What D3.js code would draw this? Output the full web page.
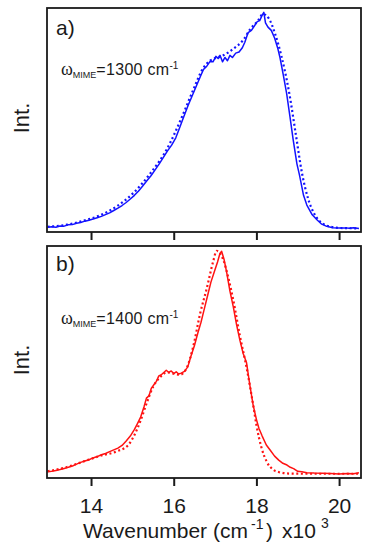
<!DOCTYPE html>
<html>
<head>
<meta charset="utf-8">
<script src="https://cdn.jsdelivr.net/npm/d3@7"></script>
<style>
  html, body { margin: 0; padding: 0; background: #fff; }
  svg { display: block; font-family: "Liberation Sans", Arial, sans-serif; }
</style>
</head>
<body>
<div id="chart"></div>
<script>
// Wavenumber axis ticks (x10^3 cm-1)
var X_TICKS = [14, 16, 18, 20];

// Panel a) measured spectrum (solid) and fit (dotted)
var A_MEAS_X = [12.95, 13.05, 13.15, 13.25, 13.35, 13.45, 13.55, 13.65, 13.75, 13.85, 13.95, 14.05, 14.15, 14.25, 14.35, 14.45, 14.55, 14.65, 14.75, 14.85, 14.95, 15.05, 15.15, 15.25, 15.35, 15.45, 15.55, 15.65, 15.75, 15.85, 15.95, 16.05, 16.15, 16.25, 16.35, 16.45, 16.55, 16.65, 16.72, 16.80, 16.88, 16.95, 17.02, 17.08, 17.12, 17.18, 17.24, 17.30, 17.36, 17.42, 17.50, 17.58, 17.66, 17.72, 17.80, 17.88, 17.95, 18.02, 18.08, 18.14, 18.18, 18.22, 18.28, 18.36, 18.44, 18.52, 18.57, 18.65, 18.73, 18.81, 18.89, 18.98, 19.04, 19.08, 19.14, 19.22, 19.35, 19.47, 19.58, 19.70, 19.85, 20.00, 20.15, 20.25, 20.35, 20.48];
var A_MEAS_Y = [0.008, 0.010, 0.008, 0.014, 0.013, 0.019, 0.020, 0.026, 0.030, 0.036, 0.040, 0.046, 0.052, 0.058, 0.066, 0.074, 0.085, 0.096, 0.108, 0.122, 0.138, 0.155, 0.175, 0.198, 0.222, 0.245, 0.272, 0.300, 0.330, 0.360, 0.386, 0.420, 0.470, 0.520, 0.570, 0.615, 0.660, 0.705, 0.735, 0.750, 0.772, 0.770, 0.795, 0.785, 0.800, 0.770, 0.790, 0.775, 0.800, 0.790, 0.810, 0.815, 0.835, 0.860, 0.905, 0.915, 0.935, 0.955, 0.960, 0.985, 0.998, 0.950, 0.930, 0.915, 0.880, 0.830, 0.790, 0.710, 0.626, 0.520, 0.410, 0.300, 0.250, 0.212, 0.155, 0.110, 0.065, 0.041, 0.022, 0.012, 0.006, 0.004, 0.005, 0.003, 0.006, 0.002];
var A_FIT_X = [12.95, 13.42, 13.80, 14.22, 14.63, 15.02, 15.43, 15.84, 16.23, 16.47, 16.71, 16.88, 17.05, 17.20, 17.44, 17.68, 17.85, 18.04, 18.16, 18.30, 18.45, 18.60, 18.80, 18.95, 19.10, 19.25, 19.40, 19.60, 19.86, 20.10, 20.48];
var A_FIT_Y = [0.010, 0.020, 0.037, 0.063, 0.105, 0.165, 0.255, 0.370, 0.530, 0.640, 0.740, 0.775, 0.790, 0.800, 0.830, 0.870, 0.920, 0.960, 0.990, 0.970, 0.900, 0.800, 0.620, 0.440, 0.260, 0.140, 0.070, 0.025, 0.008, 0.004, 0.003];

// Panel b)
var B_MEAS_X = [12.95, 13.05, 13.15, 13.25, 13.35, 13.45, 13.55, 13.65, 13.75, 13.85, 13.95, 14.05, 14.15, 14.25, 14.35, 14.45, 14.55, 14.65, 14.75, 14.85, 14.95, 15.05, 15.12, 15.20, 15.28, 15.34, 15.40, 15.46, 15.52, 15.58, 15.64, 15.70, 15.76, 15.82, 15.88, 15.94, 16.00, 16.06, 16.12, 16.18, 16.26, 16.34, 16.42, 16.50, 16.58, 16.66, 16.74, 16.82, 16.90, 16.98, 17.06, 17.12, 17.16, 17.22, 17.28, 17.36, 17.44, 17.52, 17.60, 17.68, 17.76, 17.84, 17.92, 18.00, 18.06, 18.14, 18.24, 18.34, 18.44, 18.54, 18.64, 18.74, 18.82, 18.90, 19.00, 19.10, 19.22, 19.40, 19.60, 19.80, 20.00, 20.20, 20.35, 20.48];
var B_MEAS_Y = [0.010, 0.012, 0.016, 0.020, 0.025, 0.030, 0.036, 0.044, 0.052, 0.058, 0.064, 0.072, 0.078, 0.086, 0.092, 0.100, 0.108, 0.116, 0.128, 0.148, 0.170, 0.200, 0.225, 0.255, 0.300, 0.340, 0.350, 0.385, 0.400, 0.415, 0.440, 0.445, 0.455, 0.465, 0.455, 0.462, 0.450, 0.458, 0.448, 0.452, 0.460, 0.480, 0.530, 0.575, 0.630, 0.680, 0.740, 0.800, 0.860, 0.905, 0.950, 0.990, 0.998, 0.960, 0.905, 0.820, 0.750, 0.670, 0.600, 0.540, 0.500, 0.400, 0.310, 0.245, 0.205, 0.170, 0.130, 0.105, 0.080, 0.062, 0.048, 0.040, 0.030, 0.024, 0.012, 0.010, 0.006, 0.004, 0.003, 0.002, 0.000, 0.002, 0.001, 0.006];
var B_FIT_X = [12.95, 13.40, 13.80, 14.20, 14.60, 14.90, 15.05, 15.20, 15.35, 15.50, 15.65, 15.84, 16.00, 16.15, 16.30, 16.47, 16.64, 16.81, 16.95, 17.04, 17.12, 17.20, 17.32, 17.44, 17.60, 17.77, 17.93, 18.00, 18.12, 18.25, 18.40, 18.55, 18.80, 19.20, 20.00, 20.50];
var B_FIT_Y = [0.012, 0.030, 0.055, 0.080, 0.100, 0.130, 0.175, 0.240, 0.320, 0.390, 0.430, 0.455, 0.450, 0.445, 0.470, 0.570, 0.720, 0.840, 0.950, 1.000, 0.990, 0.960, 0.880, 0.780, 0.620, 0.470, 0.300, 0.220, 0.120, 0.055, 0.020, 0.008, 0.002, 0.001, 0.001, 0.001];

var PANELS = [
  { label: "a)", omega: "1300", color: "#1212ff", top: 8, bottom: 232, yDomain: [-0.014, 1.018],
    mx: A_MEAS_X, my: A_MEAS_Y, fx: A_FIT_X, fy: A_FIT_Y, labelY: 35, omegaY: 75, showLabels: false },
  { label: "b)", omega: "1400", color: "#ff1212", top: 246, bottom: 478, yDomain: [-0.018, 1.022],
    mx: B_MEAS_X, my: B_MEAS_Y, fx: B_FIT_X, fy: B_FIT_Y, labelY: 271, omegaY: 324, showLabels: true }
];

var width = 369, height = 550;
var left = 47, right = 361;
var ink = "#1a1a1a";

var svg = d3.select("#chart").append("svg")
  .attr("width", width)
  .attr("height", height);

var x = d3.scaleLinear().domain([12.935, 20.53]).range([left, right]);

PANELS.forEach(function(p) {
  var y = d3.scaleLinear().domain(p.yDomain).range([p.bottom, p.top]);
  var g = svg.append("g");

  var clipId = "clip-" + p.label.charAt(0);
  svg.append("clipPath").attr("id", clipId)
    .append("rect")
    .attr("x", left).attr("y", p.top)
    .attr("width", right - left).attr("height", p.bottom - p.top);

  var line = d3.line()
    .x(function(d) { return x(d[0]); })
    .y(function(d) { return y(d[1]); });

  var fitLine = d3.line()
    .x(function(d) { return x(d[0]); })
    .y(function(d) { return y(d[1]); })
    .curve(d3.curveMonotoneX);

  var meas = d3.zip(p.mx, p.my);
  var fit = d3.zip(p.fx, p.fy);

  // fit (dotted)
  g.append("path")
    .datum(fit)
    .attr("clip-path", "url(#" + clipId + ")")
    .attr("d", fitLine)
    .attr("fill", "none")
    .attr("stroke", p.color)
    .attr("stroke-width", 2.2)
    .attr("stroke-dasharray", "2,2.6");

  // measured (solid)
  g.append("path")
    .datum(meas)
    .attr("clip-path", "url(#" + clipId + ")")
    .attr("d", line)
    .attr("fill", "none")
    .attr("stroke", p.color)
    .attr("stroke-width", 1.5)
    .attr("stroke-linejoin", "round");

  // frame
  g.append("rect")
    .attr("x", left).attr("y", p.top)
    .attr("width", right - left).attr("height", p.bottom - p.top)
    .attr("fill", "none")
    .attr("stroke", ink)
    .attr("stroke-width", 1.8);

  // x axis ticks
  var axis = d3.axisBottom(x)
    .tickValues(X_TICKS)
    .tickSize(8)
    .tickSizeOuter(0)
    .tickFormat(p.showLabels ? d3.format("d") : "");

  var ax = g.append("g")
    .attr("transform", "translate(0," + p.bottom + ")")
    .call(axis);
  ax.select(".domain").remove();
  ax.selectAll(".tick line").attr("stroke", ink).attr("stroke-width", 2);
  ax.selectAll(".tick text")
    .attr("y", 35).attr("dy", 0)
    .attr("fill", ink)
    .style("font-size", "21px")
    .style("font-family", "'Liberation Sans', Arial, sans-serif");

  // panel label
  g.append("text")
    .attr("x", 56).attr("y", p.labelY)
    .attr("fill", ink)
    .style("font-size", "21px")
    .text(p.label);

  // omega annotation
  var om = g.append("text")
    .attr("x", 61).attr("y", p.omegaY)
    .attr("fill", ink)
    .style("font-size", "16px");
  om.append("tspan").style("font-family", "'Liberation Serif', serif").style("font-size", "18px").text("ω");
  om.append("tspan").attr("dy", 3).style("font-size", "9px").text("MIME");
  om.append("tspan").attr("dy", -3).style("font-size", "16px").attr("letter-spacing", "0.3").text("=" + p.omega + " cm");
  om.append("tspan").attr("dy", -6).style("font-size", "10px").text("-1");

  // y label
  g.append("text")
    .attr("transform", "translate(29," + ((p.top + p.bottom) / 2 - 2) + ") rotate(-90)")
    .attr("text-anchor", "middle")
    .attr("fill", ink)
    .style("font-size", "22px")
    .text("Int.");
});

// x axis title
var title = svg.append("text")
  .attr("y", 538)
  .attr("fill", ink)
  .style("font-size", "21px");
title.append("tspan").attr("x", 83).text("Wavenumber (cm");
title.append("tspan").attr("x", 251).attr("dy", -9).style("font-size", "14px").text("-1");
title.append("tspan").attr("x", 266).attr("dy", 9).text(")");
title.append("tspan").attr("x", 282).text("x10");
title.append("tspan").attr("x", 321).attr("dy", -10).style("font-size", "14px").text("3");
</script>
</body>
</html>
